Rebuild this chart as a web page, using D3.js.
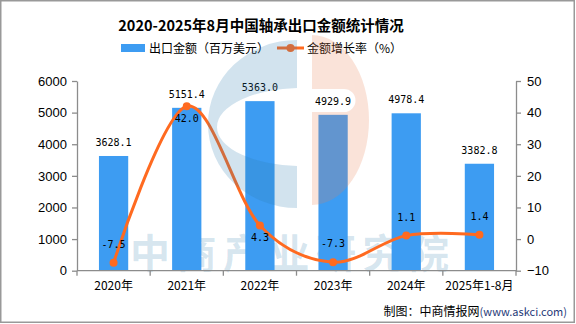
<!DOCTYPE html>
<html>
<head>
<meta charset="utf-8">
<script src="https://cdn.jsdelivr.net/npm/d3@7"></script>
<style>
  body { margin: 0; background: #fff; }
  svg { display: block; }
</style>
</head>
<body>
<script>
// chart data
var years = ["2020年", "2021年", "2022年", "2023年", "2024年", "2025年1-8月"];
var exportValue = [3628.1, 5151.4, 5363.0, 4929.9, 4978.4, 3382.8];
var growthRate = [-7.5, 42.0, 4.3, -7.3, 1.1, 1.4];
var leftTicks = [0, 1000, 2000, 3000, 4000, 5000, 6000];
var rightTicks = [-10, 0, 10, 20, 30, 40, 50];
// which growth labels sit under their point
var rateLabelBelow = [false, true, true, false, false, false];

var W = 576, H = 324;
var margin = {top: 81, right: 60, bottom: 53.3, left: 77};
var width = W - margin.left - margin.right,
    height = H - margin.top - margin.bottom;

var barColor = "#3d9cf2", lineColor = "#ff6a20", axisColor = "#8c8c8c";
var cjk = "'Noto Sans CJK SC', 'Noto Sans', sans-serif";

var svg = d3.select("body").append("svg")
    .attr("width", W)
    .attr("height", H);

// outer frame
svg.append("rect")
    .attr("x", 0.75).attr("y", 0.75)
    .attr("width", W - 2.5).attr("height", H - 2.5)
    .attr("fill", "#fff")
    .attr("stroke", "#999").attr("stroke-width", 1.5);

// title
svg.append("text")
    .attr("x", 261).attr("y", 31)
    .attr("text-anchor", "middle")
    .style("font-family", cjk)
    .style("font-weight", "bold")
    .style("font-size", "14.5px")
    .text("2020-2025年8月中国轴承出口金额统计情况");

// legend
var legend = svg.append("g").style("font-family", cjk).style("font-size", "12px");
legend.append("rect")
    .attr("x", 121).attr("y", 44).attr("width", 24).attr("height", 8)
    .attr("fill", barColor);
legend.append("text").attr("x", 149).attr("y", 52.5).text("出口金额（百万美元）");
legend.append("line")
    .attr("x1", 277).attr("x2", 304).attr("y1", 48).attr("y2", 48)
    .attr("stroke", lineColor).attr("stroke-width", 3);
legend.append("circle").attr("cx", 290.5).attr("cy", 48).attr("r", 4).attr("fill", lineColor);
legend.append("text").attr("x", 307).attr("y", 52.5).text("金额增长率（%）");

var g = svg.append("g")
    .attr("transform", "translate(" + margin.left + "," + margin.top + ")");

// scales
var x = d3.scaleBand().domain(years).range([0, width]);
var y0 = d3.scaleLinear().domain([0, 6000]).range([height, 0]);
var y1 = d3.scaleLinear().domain([-10, 50]).range([height, 0]);

// background watermark text
g.append("text")
    .attr("x", 53).attr("y", height - 3)
    .style("font-family", cjk)
    .style("font-weight", "bold")
    .style("font-size", "40px")
    .style("letter-spacing", "6.5px")
    .attr("fill", "#2a7dad")
    .attr("fill-opacity", 0.2)
    .text("中商产业研究院");

// bars
var barW = x.bandwidth() * 0.4;
g.selectAll(".bar")
    .data(exportValue)
  .enter().append("rect")
    .attr("class", "bar")
    .attr("x", function(d, i) { return x(years[i]) + (x.bandwidth() - barW) / 2; })
    .attr("y", function(d) { return y0(d); })
    .attr("width", barW)
    .attr("height", function(d) { return height - y0(d); })
    .attr("fill", barColor);

// axes
var leftAxis = g.append("g")
    .call(d3.axisLeft(y0).tickValues(leftTicks).tickFormat(d3.format("d"))
        .tickSize(5).tickSizeOuter(0).tickPadding(5));
var rightAxis = g.append("g")
    .attr("transform", "translate(" + width + ",0)")
    .call(d3.axisRight(y1).tickValues(rightTicks).tickFormat(d3.format("d"))
        .tickSize(5).tickSizeOuter(0).tickPadding(6));
[leftAxis, rightAxis].forEach(function(a) {
    a.selectAll("path, line").attr("stroke", axisColor).attr("stroke-width", 1.3);
    a.selectAll("text")
        .attr("fill", "#000")
        .style("font-family", "'Liberation Sans', Arial, sans-serif")
        .style("font-size", "13px");
});

// category axis: baseline, boundary ticks, labels
g.append("line")
    .attr("x1", 0).attr("x2", width)
    .attr("y1", height).attr("y2", height)
    .attr("stroke", axisColor).attr("stroke-width", 1.3);
var bounds = years.map(function(d) { return x(d); }).concat([width]);
g.selectAll(".xtick")
    .data(bounds)
  .enter().append("line")
    .attr("class", "xtick")
    .attr("x1", function(d) { return d; }).attr("x2", function(d) { return d; })
    .attr("y1", height).attr("y2", height + 5)
    .attr("stroke", axisColor).attr("stroke-width", 1.3);
g.selectAll(".xlabel")
    .data(years)
  .enter().append("text")
    .attr("class", "xlabel")
    .attr("x", function(d) { return x(d) + x.bandwidth() / 2; })
    .attr("y", height + 19.5)
    .attr("text-anchor", "middle")
    .style("font-family", cjk)
    .style("font-size", "12px")
    .text(function(d) { return d; });

// growth rate line
var line = d3.line()
    .x(function(d, i) { return x(years[i]) + x.bandwidth() / 2; })
    .y(function(d) { return y1(d); })
    .curve(d3.curveCardinal.tension(0));
g.append("path")
    .datum(growthRate)
    .attr("fill", "none")
    .attr("stroke", lineColor)
    .attr("stroke-width", 3)
    .attr("d", line);
g.selectAll(".dot")
    .data(growthRate)
  .enter().append("circle")
    .attr("class", "dot")
    .attr("cx", function(d, i) { return x(years[i]) + x.bandwidth() / 2; })
    .attr("cy", function(d) { return y1(d); })
    .attr("r", 4)
    .attr("fill", lineColor);

// logo watermark on top of the marks
var defs = svg.append("defs");
defs.append("clipPath").attr("id", "clipL")
  .append("rect").attr("x", 150).attr("y", 0).attr("width", 147).attr("height", 270.7);
defs.append("clipPath").attr("id", "clipR")
  .append("rect").attr("x", 312).attr("y", 0).attr("width", 100).attr("height", 270.7);

function ellipsePath(cx, cy, rx, ry) {
    return "M" + (cx - rx) + "," + cy +
        "A" + rx + "," + ry + " 0 1,0 " + (cx + rx) + "," + cy +
        "A" + rx + "," + ry + " 0 1,0 " + (cx - rx) + "," + cy + "Z";
}
svg.append("path")
    .attr("clip-path", "url(#clipL)")
    .attr("fill-rule", "evenodd")
    .attr("d", ellipsePath(297, 124, 89, 84) + ellipsePath(301, 127, 84, 39))
    .attr("fill", "#2a7dad")
    .attr("fill-opacity", 0.21);
svg.append("path")
    .attr("clip-path", "url(#clipR)")
    .attr("fill-rule", "evenodd")
    .attr("d", ellipsePath(312, 120, 57, 85) +
        "M300,89H344A11.5,11.5 0 0,1 344,112H300Z")
    .attr("fill", "#e88150")
    .attr("fill-opacity", 0.22);

// value labels
var labelFont = "'DejaVu Sans Mono', 'Liberation Mono', monospace";
g.selectAll(".barlabel")
    .data(exportValue)
  .enter().append("text")
    .attr("class", "barlabel")
    .attr("x", function(d, i) { return x(years[i]) + x.bandwidth() / 2; })
    .attr("y", function(d) { return y0(d) - 10; })
    .attr("text-anchor", "middle")
    .style("font-family", labelFont)
    .style("font-size", "10px")
    .text(function(d) { return d.toFixed(1); });
g.selectAll(".ratelabel")
    .data(growthRate)
  .enter().append("text")
    .attr("class", "ratelabel")
    .attr("x", function(d, i) { return x(years[i]) + x.bandwidth() / 2; })
    .attr("y", function(d, i) { return y1(d) + (rateLabelBelow[i] ? 16 : -15); })
    .attr("text-anchor", "middle")
    .style("font-family", labelFont)
    .style("font-size", "10px")
    .text(function(d) { return d.toFixed(1); });

// source note
var src = svg.append("text")
    .attr("x", 567).attr("y", 315.5)
    .attr("text-anchor", "end")
    .style("font-family", cjk)
    .style("font-size", "12px");
src.append("tspan").text("制图：中商情报网");
src.append("tspan").attr("fill", "#1f3a78").style("font-size", "11px").text("(www.askci.com)");
</script>
</body>
</html>
